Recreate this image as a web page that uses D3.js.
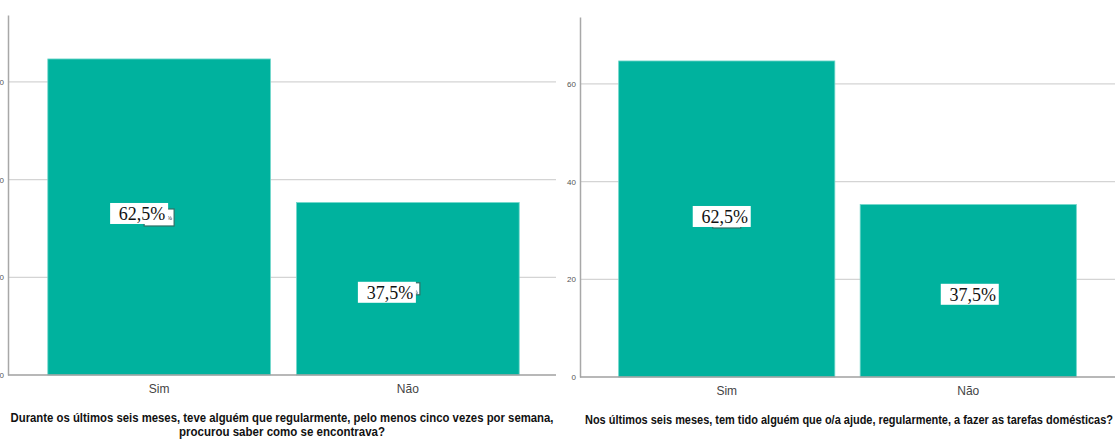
<!DOCTYPE html>
<html>
<head>
<meta charset="utf-8">
<script src="https://cdn.jsdelivr.net/npm/d3@7"></script>
<style>
  body { margin: 0; background: #fff; }
  svg { display: block; }
</style>
</head>
<body>
<div id="chart"></div>
<script>
        // Dados
        const categories = ["Sim", "Não"];
        const valuesA = [64.7, 35.3];
        const valuesB = [64.7, 35.3];
        const labelsA = ["62,5%", "37,5%"];
        const labelsB = ["62,5%", "37,5%"];
        const yTicks = [0, 20, 40, 60];
        const titleA = ["Durante os últimos seis meses, teve alguém que regularmente, pelo menos cinco vezes por semana,",
                        "procurou saber como se encontrava?"];
        const titleB = ["Nos últimos seis meses, tem tido alguém que o/a ajude, regularmente, a fazer as tarefas domésticas?"];

        const W = 1115, H = 440;
        const svg = d3.select("#chart").append("svg")
            .attr("width", W).attr("height", H);

        const barColor = "#00b29e";

        // Um painel
        function panel(opt) {
            const g = svg.append("g");
            const x = d3.scaleBand()
                .domain(categories)
                .range([opt.x0, opt.x1])
                .paddingInner(0.105)
                .paddingOuter(0.16);
            const y = d3.scaleLinear()
                .domain([0, 73.7])
                .range([opt.y0, opt.y0 - 360]);

            // grelha
            g.selectAll(".grid")
                .data(yTicks.filter(t => t > 0))
                .enter().append("line")
                .attr("x1", opt.x0).attr("x2", opt.gx1)
                .attr("y1", d => y(d)).attr("y2", d => y(d))
                .attr("stroke", "#d4d4d4").attr("stroke-width", 1.2);

            // eixo y
            const ay = g.append("g")
                .attr("transform", `translate(${opt.x0},0)`)
                .call(d3.axisLeft(y).tickValues(yTicks).tickSize(0).tickPadding(4));
            ay.select(".domain").attr("stroke", "#a8a8a8").attr("stroke-width", 1.5);
            ay.selectAll("text").attr("font-family", "Arial, 'Liberation Sans', sans-serif")
                .attr("font-size", 8).attr("fill", "#555");

            // barras
            g.selectAll(".bar")
                .data(opt.values)
                .enter().append("rect")
                .attr("x", (d, i) => x(categories[i]))
                .attr("width", x.bandwidth())
                .attr("y", d => y(d))
                .attr("height", d => y(0) - y(d))
                .attr("fill", barColor)
                .attr("stroke", "#6fd6ca").attr("stroke-width", 0.8);

            // linha base
            g.append("line")
                .attr("x1", opt.x0).attr("x2", opt.gx1)
                .attr("y1", y(0)).attr("y2", y(0))
                .attr("stroke", "#a0a0a0").attr("stroke-width", 1.5);

            // categorias
            g.selectAll(".cat")
                .data(categories)
                .enter().append("text")
                .attr("x", d => x(d) + x.bandwidth() / 2)
                .attr("y", y(0) + 18)
                .attr("text-anchor", "middle")
                .attr("font-family", "Arial, 'Liberation Sans', sans-serif")
                .attr("font-size", 12).attr("fill", "#444")
                .text(d => d);

            // rótulos colados
            opt.values.forEach((v, i) => {
                const cx = x(categories[i]) + x.bandwidth() / 2 + opt.dx[i];
                const cy = y(v / 2) + opt.dy[i];
                if (opt.ghost[i]) {
                    const gh = opt.ghost[i];
                    g.append("rect")
                        .attr("x", cx + gh[0]).attr("y", cy + gh[1])
                        .attr("width", gh[2]).attr("height", gh[3])
                        .attr("fill", "#fff").attr("stroke", "#2f6f66").attr("stroke-width", 1.2);
                    if (gh[4]) {
                        g.append("text")
                            .attr("x", cx + gh[0] + gh[2] - 5).attr("y", cy + gh[1] + 11)
                            .attr("font-family", "'Liberation Serif', serif")
                            .attr("font-size", 7).attr("text-anchor", "middle").attr("fill", "#222")
                            .text("%");
                    }
                }
                g.append("rect")
                    .attr("x", cx - 29).attr("y", cy - 11)
                    .attr("width", 58).attr("height", 21)
                    .attr("fill", "#fff");
                g.append("text")
                    .attr("x", cx + 3).attr("y", cy + 6)
                    .attr("text-anchor", "middle")
                    .attr("font-family", "'Liberation Serif', 'Times New Roman', serif")
                    .attr("font-size", 18).attr("fill", "#111")
                    .text(opt.labels[i]);
            });

            // título
            g.selectAll(".title")
                .data(opt.title)
                .enter().append("text")
                .attr("x", opt.tx)
                .attr("y", (d, i) => opt.ty + i * 14)
                .attr("text-anchor", "middle")
                .attr("font-family", "'Liberation Sans', Arial, sans-serif")
                .attr("font-weight", "bold")
                .attr("font-size", 12).attr("fill", "#111")
                .attr("textLength", (d, i) => opt.tw[i])
                .attr("lengthAdjust", "spacingAndGlyphs")
                .text(d => d);
        }

        panel({
            x0: 8, x1: 559, gx1: 556, y0: 375,
            values: valuesA, labels: labelsA,
            dx: [-20, -21], dy: [-3, 4],
            ghost: [[5, -5, 30, 17, true], [25, -10, 8, 12, true]],
            title: titleA, tx: 282, ty: 422, tw: [543, 206]
        });

        panel({
            x0: 580, x1: 1115, gx1: 1115, y0: 377,
            values: valuesB, labels: labelsB,
            dx: [-5, 1.5], dy: [-2, 4],
            ghost: [[-9, 0, 28, 11, false], null],
            title: titleB, tx: 849, ty: 424, tw: [528]
        });
</script>
</body>
</html>
